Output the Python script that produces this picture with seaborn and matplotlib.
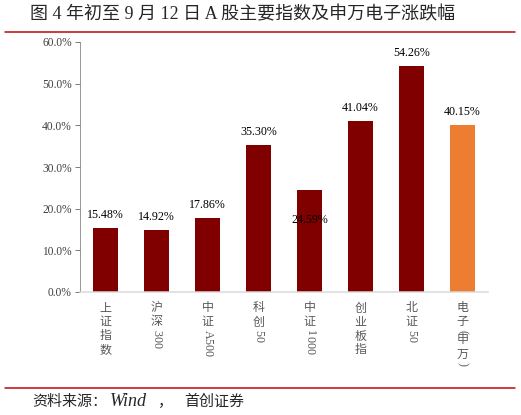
import matplotlib
matplotlib.use('Agg')
import matplotlib.pyplot as plt
from matplotlib.lines import Line2D
from matplotlib.ticker import FuncFormatter
import seaborn as sns

categories = ['上证指数', '沪深300', '中证A500', '科创50', '中证1000', '创业板指', '北证50', '电子(申万)']
values = [15.48, 14.92, 17.86, 35.30, 24.59, 41.04, 54.26, 40.15]
colors = ['#800000'] * 7 + ['#ED7D31']
yticks = [0, 10, 20, 30, 40, 50, 60]
title = '图 4 年初至 9 月 12 日 A 股主要指数及申万电子涨跌幅'
source_parts = ['资料来源：', 'Wind', '，', '首创证券']

sns.set_style('white')
plt.rcParams['font.family'] = ['Liberation Serif', 'Noto Sans CJK SC', 'DejaVu Sans']
CJK = ['Noto Sans CJK SC', 'DejaVu Sans']
MIX = ['Liberation Serif', 'Noto Sans CJK SC', 'DejaVu Sans']

W, H = 521, 415
fig = plt.figure(figsize=(W / 72, H / 72), dpi=72)
ax = fig.add_axes([80 / W, (H - 292) / H, (488 - 80) / W, (292 - 42) / H])

sns.barplot(x=list(range(len(categories))), y=values, hue=list(range(len(categories))),
            palette=colors, legend=False, width=0.5, saturation=1, ax=ax, edgecolor='none')

ax.set_xlim(-0.5, len(categories) - 0.5)
ax.set_ylim(0, 60)
ax.set_yticks(yticks)
ax.yaxis.set_major_formatter(FuncFormatter(lambda v, p: f'{v:.1f}%'))
ax.tick_params(axis='y', length=5, width=1, color='#808080', labelsize=11.5, labelcolor='#404040', pad=3, left=True)
ax.tick_params(axis='x', length=0)
ax.set_xticks(range(len(categories)))
ax.set_xticklabels([])
ax.set_xlabel('')
ax.set_ylabel('')
sns.despine(ax=ax)
ax.spines['left'].set_color('#808080')
ax.spines['bottom'].set_color('#D9D9D9')
ax.spines['bottom'].set_linewidth(1.5)

# value labels (the 中证1000 label sits inside its bar in the original)
label_override = {'中证1000': 17.3}
for i, (c, v) in enumerate(zip(categories, values)):
    if c in label_override:
        ax.annotate(f'{v:.2f}%', (i, label_override[c]), ha='center', va='center', fontsize=12, color='black')
    else:
        ax.annotate(f'{v:.2f}%', (i, v), xytext=(0, 13), textcoords='offset points',
                    ha='center', va='center', fontsize=12, color='black')

# vertical category labels: CJK upright, latin/digits rotated
adv = {'(': 4, ')': 4, 'A': 8.5}
for i, c in enumerate(categories):
    y = -9
    for ch in c:
        if ord(ch) > 0x2E80:
            ax.annotate(ch, (i, 0), xycoords=('data', 'axes fraction'), xytext=(0, y - 7),
                        textcoords='offset points', ha='center', va='center',
                        fontsize=12, color='#595959', family=CJK)
            y -= 14
        else:
            ax.annotate(ch, (i, 0), xycoords=('data', 'axes fraction'), xytext=(0, y - 1),
                        textcoords='offset points', ha='left', va='center', rotation=270,
                        rotation_mode='anchor', fontsize=12, color='#595959', family=MIX)
            y -= adv.get(ch, 6)

fig.text(30 / W, 1 - 15 / H, title, fontsize=18, va='center', ha='left', family=MIX)
fig.add_artist(Line2D([5 / W, 515 / W], [1 - 32 / H] * 2, color='#C00000', lw=1.5))
fig.add_artist(Line2D([5 / W, 515 / W], [1 - 388 / H] * 2, color='#C00000', lw=1.5))

# footer, pieced together to follow the original's wide spacing
fy = 1 - 402 / H
fig.text(32 / W, fy, source_parts[0], fontsize=15, va='center', ha='left', family=CJK)
fig.text(110 / W, fy, source_parts[1], fontsize=18, style='italic', va='center', ha='left', family=MIX)
fig.text(157 / W, fy, source_parts[2], fontsize=15, va='center', ha='left', family=CJK)
fig.text(184 / W, fy, source_parts[3], fontsize=15, va='center', ha='left', family=CJK)

fig.savefig('out.png', dpi=72)
